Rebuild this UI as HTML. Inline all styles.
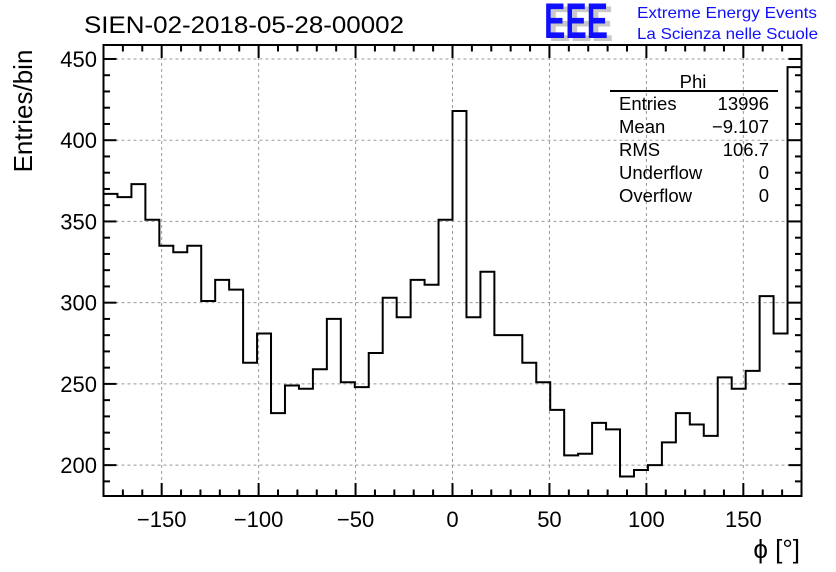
<!DOCTYPE html>
<html><head><meta charset="utf-8"><style>
body{margin:0;background:#fff}
svg{display:block;font-family:"Liberation Sans",Arial,sans-serif}
</style></head><body>
<svg id="chart" width="836" height="572" viewBox="0 0 836 572">
<text x="84" y="33" font-size="24" textLength="320" lengthAdjust="spacingAndGlyphs">SIEN-02-2018-05-28-00002</text>
<g>
<text x="549" y="41" font-size="50" font-weight="bold" fill="#c8c8c8" textLength="64" lengthAdjust="spacingAndGlyphs">EEE</text>
<text x="544" y="38" font-size="50" font-weight="bold" fill="#1010ff" textLength="64" lengthAdjust="spacingAndGlyphs">EEE</text>
<text x="637" y="18" font-size="16" fill="#1010ff" textLength="180" lengthAdjust="spacingAndGlyphs">Extreme Energy Events</text>
<text x="637" y="39" font-size="16" fill="#1010ff" textLength="181" lengthAdjust="spacingAndGlyphs">La Scienza nelle Scuole</text>
</g>
<g id="grid"></g>
<g id="axes"></g>
<path id="hist" fill="none" stroke="#000" stroke-width="2"/>
<rect x="103.5" y="45" width="698" height="451" fill="none" stroke="#000" stroke-width="2"/>
<text transform="translate(32,111) rotate(-90)" text-anchor="middle" font-size="26">Entries/bin</text>
<text x="800" y="558" text-anchor="end" font-size="26">ϕ [°]</text>
<g font-size="18.5">
<text x="693" y="88" text-anchor="middle">Phi</text>
<line x1="610" y1="91" x2="778" y2="91" stroke="#000" stroke-width="2"/>
<text x="619" y="110">Entries</text><text x="769" y="110" text-anchor="end">13996</text>
<text x="619" y="133">Mean</text><text x="769" y="133" text-anchor="end">−9.107</text>
<text x="619" y="156">RMS</text><text x="769" y="156" text-anchor="end">106.7</text>
<text x="619" y="179">Underflow</text><text x="769" y="179" text-anchor="end">0</text>
<text x="619" y="202">Overflow</text><text x="769" y="202" text-anchor="end">0</text>
</g>
</svg>
<script>
const counts=[367,365,373,351,335,331,335,301,314,308,263,281,232,249,247,259,290,251,248,269,303,291,314,311,351,418,291,319,280,280,263,251,234,206,207,226,222,193,197,200,214,232,225,218,254,247,258,304,281,445];
const xTicks=[-150,-100,-50,0,50,100,150];
const yTicks=[200,250,300,350,400,450];
const xMin=-180,xMax=180,yMin=181,yMax=458.6;
const L=103.5,R=801.5,T=45,B=496;
const sx=v=>L+(v-xMin)/(xMax-xMin)*(R-L);
const sy=v=>B-(v-yMin)/(yMax-yMin)*(B-T);
const NS='http://www.w3.org/2000/svg';
const grid=document.getElementById('grid'),axes=document.getElementById('axes');
function mk(tag,attrs,parent){const e=document.createElementNS(NS,tag);for(const k in attrs)e.setAttribute(k,attrs[k]);parent.appendChild(e);return e;}
xTicks.forEach(v=>{
 const g=mk('line',{x1:sx(v),x2:sx(v),y1:T,y2:B,stroke:'#999','stroke-dasharray':'3,3','stroke-width':1},grid);
 
 
 const t=mk('text',{x:sx(v),y:527,'text-anchor':'middle','font-size':22},axes);
 t.textContent=v<0?'−'+Math.abs(v):String(v);
 
 
});
yTicks.forEach(v=>{
 const g=mk('line',{x1:L,x2:R,y1:sy(v),y2:sy(v),stroke:'#999','stroke-dasharray':'3,3','stroke-width':1},grid);
 
 
 const t=mk('text',{x:97,y:sy(v)+8,'text-anchor':'end','font-size':22},axes);
 t.textContent=String(v);
 
 
});
for(let v=-180;v<=180;v+=10){const len=v%50===0?13:6.5;
 const a=mk('line',{x1:sx(v),x2:sx(v),y1:B,y2:B-len,stroke:'#000','stroke-width':2},axes);
 
 
 const b=mk('line',{x1:sx(v),x2:sx(v),y1:T,y2:T+len,stroke:'#000','stroke-width':2},axes);
 
 }
for(let v=190;v<=450;v+=10){const len=v%50===0?13:6.5;
 const a=mk('line',{x1:L,x2:L+len,y1:sy(v),y2:sy(v),stroke:'#000','stroke-width':2},axes);
 
 
 const b=mk('line',{x1:R,x2:R-len,y1:sy(v),y2:sy(v),stroke:'#000','stroke-width':2},axes);
 
 }
const w=(xMax-xMin)/counts.length;let d='';
counts.forEach((c,i)=>{const x0=sx(xMin+i*w),x1=sx(xMin+(i+1)*w),y=sy(c);d+=(i===0?'M'+x0+','+y:'V'+y)+'H'+x1;});
document.getElementById('hist').setAttribute('d',d);
</script>
</body></html>
